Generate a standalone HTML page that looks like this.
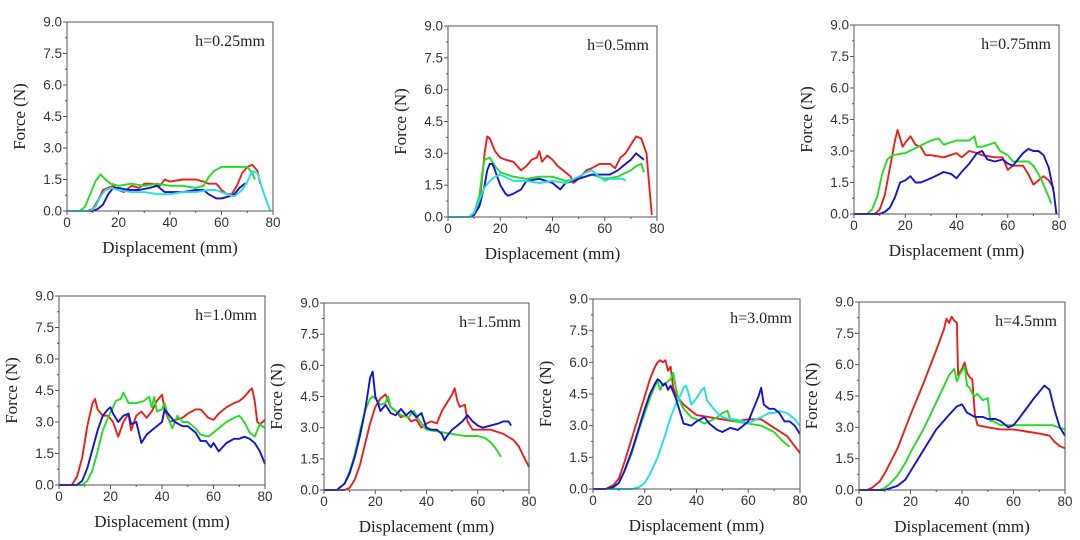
<!DOCTYPE html>
<html><head><meta charset="utf-8"><style>
html,body{margin:0;padding:0;background:#fff;}
svg{display:block;}
.tk{font-family:"Liberation Sans",Arial,sans-serif;font-size:13.5px;fill:#333;}
.lb{font-family:"Liberation Serif","Times New Roman",serif;font-size:17px;fill:#222;}
.tt{font-family:"Liberation Serif","Times New Roman",serif;font-size:16px;fill:#222;}
</style></head><body>
<svg id="fig" width="1080" height="540" xmlns="http://www.w3.org/2000/svg"></svg>
<script>
// ---- data ----
const xTicks = [0,20,40,60,80];
const yTicks = [0,1.5,3.0,4.5,6.0,7.5,9.0];
const panelTitles = ["h=0.25mm","h=0.5mm","h=0.75mm","h=1.0mm","h=1.5mm","h=3.0mm","h=4.5mm"];

const p1RedX=[0,8,10,12,14,16,18,20,22,25,28,30,33,36,38,40,45,50,53,55,58,60,62,64,66,68,70,72,74,75];
const p1RedY=[0,0,0.1,0.5,1.0,1.1,1.2,1.0,0.9,1.2,1.1,1.3,1.3,1.2,1.5,1.4,1.5,1.5,1.4,1.3,1.3,1.0,0.8,0.8,1.2,1.8,2.1,2.2,1.9,1.3];
const p1GreenX=[0,5,7,9,11,13,15,17,20,25,30,35,40,45,50,53,55,57,60,65,68,70,72,73];
const p1GreenY=[0,0,0.2,0.8,1.4,1.75,1.5,1.3,1.2,1.3,1.2,1.3,1.2,1.2,1.1,1.2,1.6,1.9,2.1,2.1,2.1,2.1,1.8,1.5];
const p1BlueX=[0,10,12,14,16,18,20,24,28,32,35,38,40,45,50,53,55,58,60,63,65,67,69,70];
const p1BlueY=[0,0,0.1,0.3,0.8,1.1,1.1,1.0,1.0,1.1,1.2,0.9,0.9,0.9,1.0,1.0,0.8,0.6,0.6,0.7,0.8,1.1,1.3,1.3];
const p1CyanX=[0,9,11,13,15,17,20,25,30,35,40,45,50,55,58,62,65,68,70,72,74,76,78,79];
const p1CyanY=[0,0,0.2,0.7,1.0,1.1,1.0,0.9,0.9,0.8,0.8,0.9,0.9,1.0,1.0,0.8,0.7,1.0,1.4,1.9,1.8,1.0,0.3,0];

const p2RedX=[0,8,10,12,13,14,15,16,18,20,22,25,28,30,32,34,35,36,38,40,42,45,47,48,50,53,55,58,62,64,66,68,70,72,74,76,77,78];
const p2RedY=[0,0,0.1,0.6,1.8,3.0,3.8,3.7,3.1,2.8,2.7,2.6,2.2,2.4,2.7,2.8,3.1,2.6,2.9,2.7,2.4,2.1,1.9,1.6,1.8,2.2,2.3,2.5,2.5,2.3,2.8,3.0,3.4,3.8,3.7,3.0,1.5,0.1];
const p2GreenX=[0,8,10,12,13,14,16,18,20,25,30,35,40,45,50,55,60,65,70,72,74,75];
const p2GreenY=[0,0,0.2,1.0,2.0,2.7,2.8,2.4,2.1,1.9,1.8,1.9,1.9,1.7,1.8,2.0,1.8,1.9,2.2,2.4,2.5,2.1];
const p2BlueX=[0,8,10,12,14,15,16,17,18,20,22,23,25,28,30,35,40,43,45,48,50,55,58,60,62,65,68,70,72,74,75];
const p2BlueY=[0,0,0.1,0.5,1.5,2.2,2.5,2.5,2.2,1.5,1.1,1.0,1.1,1.3,1.7,1.8,1.6,1.3,1.6,1.7,1.8,2.0,2.0,2.0,2.0,2.2,2.5,2.7,3.0,2.8,2.7];
const p2CyanX=[0,8,10,12,14,16,18,20,25,30,35,40,45,50,53,55,58,60,62,65,67,68];
const p2CyanY=[0,0,0.2,0.8,1.4,1.7,1.9,2.0,1.7,1.7,1.6,1.7,1.6,1.9,2.1,2.2,1.9,1.7,1.8,1.8,1.8,1.7];

const p3RedX=[0,8,10,12,14,16,17,18,19,20,22,24,26,28,30,35,40,42,45,48,50,55,58,60,62,64,66,68,70,72,74,76,78];
const p3RedY=[0,0,0.2,0.9,2.2,3.5,4.0,3.6,3.2,3.4,3.7,3.3,3.2,2.8,2.8,2.7,2.9,2.7,3.0,2.9,2.8,2.7,2.7,2.1,2.3,2.3,2.3,1.9,1.4,1.6,1.8,1.6,1.2];
const p3GreenX=[0,5,7,9,11,13,15,20,25,30,33,35,40,45,47,48,50,55,57,60,62,65,68,70,72,74,76,77];
const p3GreenY=[0,0,0.2,0.8,1.9,2.6,2.8,2.9,3.2,3.5,3.6,3.3,3.5,3.5,3.7,3.2,3.2,3.4,3.0,2.8,2.5,2.5,2.5,2.3,1.9,1.4,0.8,0.5];
const p3BlueX=[0,10,12,14,16,18,20,22,24,26,30,35,38,40,42,45,48,50,52,55,58,60,62,64,66,68,70,72,74,76,78,79];
const p3BlueY=[0,0,0.1,0.3,0.8,1.5,1.6,1.8,1.5,1.5,1.7,2.0,1.9,1.7,2.0,2.4,2.9,3.0,2.6,2.5,2.6,2.4,2.3,2.6,2.9,3.1,3.0,3.0,2.8,2.2,1.0,0];

const p4RedX=[0,5,7,9,11,13,14,15,17,19,21,23,25,27,28,30,32,34,36,38,40,41,43,45,48,50,53,55,58,60,62,65,68,70,72,74,75,76,77,78,80];
const p4RedY=[0,0,0.4,1.3,2.8,3.9,4.1,3.6,3.3,3.3,3.0,2.3,3.0,3.4,2.6,3.3,3.5,3.2,3.5,4.0,4.3,3.6,3.0,3.1,3.2,3.4,3.6,3.6,3.2,3.1,3.4,3.7,3.9,4.0,4.2,4.5,4.6,4.0,3.0,2.9,3.1];
const p4GreenX=[0,9,11,13,15,17,19,21,22,24,25,27,30,33,35,36,37,38,40,41,43,44,46,48,50,53,55,58,60,62,65,68,70,72,74,76,78,80];
const p4GreenY=[0,0,0.2,0.7,1.6,2.6,3.2,3.7,4.0,4.1,4.4,3.9,3.9,4.0,4.2,3.7,4.2,3.5,3.6,3.9,3.0,2.7,3.3,3.0,3.0,2.7,2.4,2.3,2.5,2.7,3.0,3.2,3.3,3.0,2.5,2.3,2.9,2.7];
const p4BlueX=[0,7,9,11,13,15,17,19,20,21,23,25,27,28,30,32,34,36,38,40,41,43,45,48,50,53,55,57,59,60,62,65,68,70,72,74,76,78,80];
const p4BlueY=[0,0,0.2,0.8,1.7,2.6,3.3,3.6,3.7,3.4,3.0,3.3,3.4,2.9,3.0,2.0,2.4,2.6,2.8,3.0,3.6,3.3,3.0,2.8,2.8,2.5,2.1,2.1,1.8,2.0,1.6,2.0,2.2,2.2,2.3,2.2,2.0,1.6,1.0];

const p5RedX=[0,8,10,12,14,16,18,20,22,24,26,28,30,32,34,36,38,40,42,44,46,48,50,51,52,53,55,56,58,60,65,70,74,76,78,80];
const p5RedY=[0,0,0.1,0.5,1.2,2.2,3.2,4.0,4.4,4.6,4.0,3.8,3.5,3.6,3.3,3.4,3.0,3.2,3.3,3.2,3.8,4.2,4.6,4.9,4.3,4.0,4.1,3.3,2.9,2.9,2.9,2.7,2.4,2.1,1.6,1.1];
const p5GreenX=[0,5,8,10,12,14,16,18,19,20,22,24,25,26,28,30,33,35,36,38,40,45,50,55,60,63,65,67,69];
const p5GreenY=[0,0,0.3,0.9,1.7,2.8,3.8,4.4,4.5,4.4,4.1,4.2,4.5,4.0,3.8,3.6,3.5,3.8,3.6,3.2,2.9,2.8,2.7,2.6,2.6,2.5,2.3,2.0,1.6];
const p5BlueX=[0,5,8,10,12,14,16,17,18,19,20,21,22,24,26,28,30,32,34,36,38,40,42,44,46,47,48,50,52,54,56,58,60,62,65,68,70,72,73];
const p5BlueY=[0,0,0.3,0.8,1.6,2.6,3.8,4.6,5.4,5.7,4.5,4.2,3.8,4.1,3.7,3.6,3.9,3.6,3.8,3.5,3.7,3.0,2.9,2.9,2.7,2.4,2.6,2.9,3.1,3.3,3.6,3.3,3.1,3.0,3.1,3.2,3.3,3.3,3.1];

const p6RedX=[0,5,8,10,12,15,18,20,22,24,25,26,27,28,29,30,31,32,33,35,38,40,45,50,55,60,65,70,75,80];
const p6RedY=[0,0,0.2,0.5,1.2,2.4,3.6,4.4,5.2,5.8,6.0,6.1,6.0,6.1,5.6,5.8,4.8,4.5,4.3,4.0,3.7,3.5,3.4,3.3,3.2,3.3,3.3,2.9,2.5,1.7];
const p6GreenX=[0,5,8,10,12,15,18,20,22,24,25,26,27,28,30,31,32,33,35,38,40,43,45,48,50,52,53,55,60,65,70,73,76];
const p6GreenY=[0,0,0.1,0.3,0.8,1.7,2.9,3.6,4.3,4.9,5.1,4.7,5.0,5.0,5.2,5.5,4.8,4.3,3.8,3.4,3.3,3.1,3.2,3.4,3.6,3.7,3.3,3.2,3.1,3.0,2.7,2.3,2.0];
const p6BlueX=[0,5,8,10,12,15,18,20,22,24,25,26,27,28,29,30,32,34,35,38,40,43,45,48,50,53,56,58,60,62,64,65,66,68,70,72,74,76,78,80];
const p6BlueY=[0,0,0.1,0.3,0.8,1.8,3.0,3.8,4.5,5.0,5.2,5.1,4.9,5.0,4.7,4.9,4.3,3.5,3.1,3.0,3.2,3.4,3.1,2.8,2.7,2.9,2.8,3.0,3.2,3.8,4.4,4.8,4.0,3.8,3.8,3.6,3.2,3.2,3.0,2.6];
const p6CyanX=[0,15,18,20,22,25,28,30,32,34,35,36,37,38,40,42,43,44,46,48,50,53,55,58,60,63,65,68,70,72,75,78,80];
const p6CyanY=[0,0,0.1,0.3,0.7,1.5,2.6,3.4,4.0,4.5,4.8,4.9,4.5,4.0,4.3,4.7,4.8,4.2,3.9,3.6,3.4,3.3,3.3,3.2,3.1,3.3,3.4,3.6,3.6,3.7,3.6,3.3,3.0];

const p7RedX=[0,3,5,8,10,15,20,25,30,33,34,35,36,37,38,38.5,40,41,42,43,44,45,46,50,55,60,65,70,74,76,78,80];
const p7RedY=[0,0,0.1,0.4,0.8,2.0,3.6,5.1,6.7,7.7,8.2,8.0,8.3,8.1,8.0,5.5,5.8,6.1,5.6,5.4,5.3,3.6,3.1,3.0,2.9,2.9,2.8,2.7,2.6,2.3,2.1,2.0];
const p7GreenX=[0,8,10,12,15,18,20,25,30,35,37,38,39,40,41,42,43,44,45,46,48,50,51,52,55,60,65,70,75,80];
const p7GreenY=[0,0,0.1,0.3,0.7,1.3,1.8,2.9,4.2,5.5,5.8,5.2,5.5,5.7,5.9,5.0,4.9,4.6,4.5,4.6,4.3,4.4,3.3,3.3,3.1,3.1,3.1,3.1,3.1,2.9];
const p7BlueX=[0,10,15,18,20,25,30,35,38,40,42,45,48,50,53,55,58,60,62,65,68,70,72,74,76,78,80];
const p7BlueY=[0,0,0.2,0.5,0.9,1.9,2.9,3.6,4.0,4.1,3.7,3.5,3.5,3.4,3.4,3.3,3.0,3.1,3.4,3.9,4.4,4.7,5.0,4.8,3.8,3.0,2.6];

// ---- layout (pixel boxes) ----
const C={red:"#e8201a",green:"#22dd22",blue:"#1414cc",cyan:"#22e0e6"};
const panels=[
 {b:[67,22,273,211], s:[["red",p1RedX,p1RedY],["green",p1GreenX,p1GreenY],["blue",p1BlueX,p1BlueY],["cyan",p1CyanX,p1CyanY]]},
 {b:[448,26,657,217], s:[["red",p2RedX,p2RedY],["green",p2GreenX,p2GreenY],["blue",p2BlueX,p2BlueY],["cyan",p2CyanX,p2CyanY]]},
 {b:[854,25,1059,214], s:[["red",p3RedX,p3RedY],["green",p3GreenX,p3GreenY],["blue",p3BlueX,p3BlueY]]},
 {b:[59,296,265,485], s:[["red",p4RedX,p4RedY],["green",p4GreenX,p4GreenY],["blue",p4BlueX,p4BlueY]]},
 {b:[324,303,529,490], s:[["red",p5RedX,p5RedY],["green",p5GreenX,p5GreenY],["blue",p5BlueX,p5BlueY]]},
 {b:[593,299,800,489], s:[["red",p6RedX,p6RedY],["green",p6GreenX,p6GreenY],["cyan",p6CyanX,p6CyanY],["blue",p6BlueX,p6BlueY]]},
 {b:[859,302,1065,490], s:[["red",p7RedX,p7RedY],["green",p7GreenX,p7GreenY],["blue",p7BlueX,p7BlueY]]}
];
const NS="http://www.w3.org/2000/svg";
const svg=document.getElementById("fig");
function mk(tag,attrs,parent,txt){const e=document.createElementNS(NS,tag);for(const k in attrs)e.setAttribute(k,attrs[k]);if(txt!==undefined)e.textContent=txt;parent.appendChild(e);return e;}
panels.forEach((p,i)=>{
  const [L,T,R,B]=p.b;
  const xs=v=>L+(v-0)/80*(R-L);
  const ys=v=>B-(v-0)/9*(B-T);
  const g=mk("g",{},svg);
  
  
  p.s.forEach(([c,X,Y])=>{
    const d=X.map((x,k)=>(k?"L":"M")+xs(x).toFixed(1)+","+ys(Y[k]).toFixed(1)).join("");
    const pl=mk("path",{d:d,fill:"none",stroke:C[c],"stroke-width":1.9,"stroke-linejoin":"round"},g);
    
    
  });
  const box=mk("rect",{x:L,y:T,width:R-L,height:B-T,fill:"none",stroke:"#555","stroke-width":1},g);
  
  
  xTicks.forEach(v=>{
    mk("line",{x1:xs(v),x2:xs(v),y1:B,y2:B+4,stroke:"#555"},g);
    const t=mk("text",{x:xs(v),y:B+16,"text-anchor":"middle",class:"tk"},g,String(v));
    
    
  });
  for(let k=0;k<xTicks.length-1;k++){const m=(xTicks[k]+xTicks[k+1])/2;mk("line",{x1:xs(m),x2:xs(m),y1:B,y2:B+2,stroke:"#555"},g);}
  yTicks.forEach(v=>{
    mk("line",{x1:L-4,x2:L,y1:ys(v),y2:ys(v),stroke:"#555"},g);
    const t=mk("text",{x:L-5,y:ys(v)+4.5,"text-anchor":"end",class:"tk"},g,v.toFixed(1));
    
    
  });
  for(let k=0;k<yTicks.length-1;k++){const m=(yTicks[k]+yTicks[k+1])/2;mk("line",{x1:L-2,x2:L,y1:ys(m),y2:ys(m),stroke:"#555"},g);}
  const xl=mk("text",{x:(L+R)/2,y:B+42,"text-anchor":"middle",class:"lb"},g,"Displacement (mm)");
  
  
  const cy=(T+B)/2, cx=L-42;
  const yl=mk("text",{x:cx,y:cy,"text-anchor":"middle",class:"lb",transform:`rotate(-90 ${cx} ${cy})`},g,"Force (N)");
  
  
  const tt=mk("text",{x:R-8,y:T+24,"text-anchor":"end",class:"tt"},g,panelTitles[i]);
  
  
});
</script>
</body></html>
